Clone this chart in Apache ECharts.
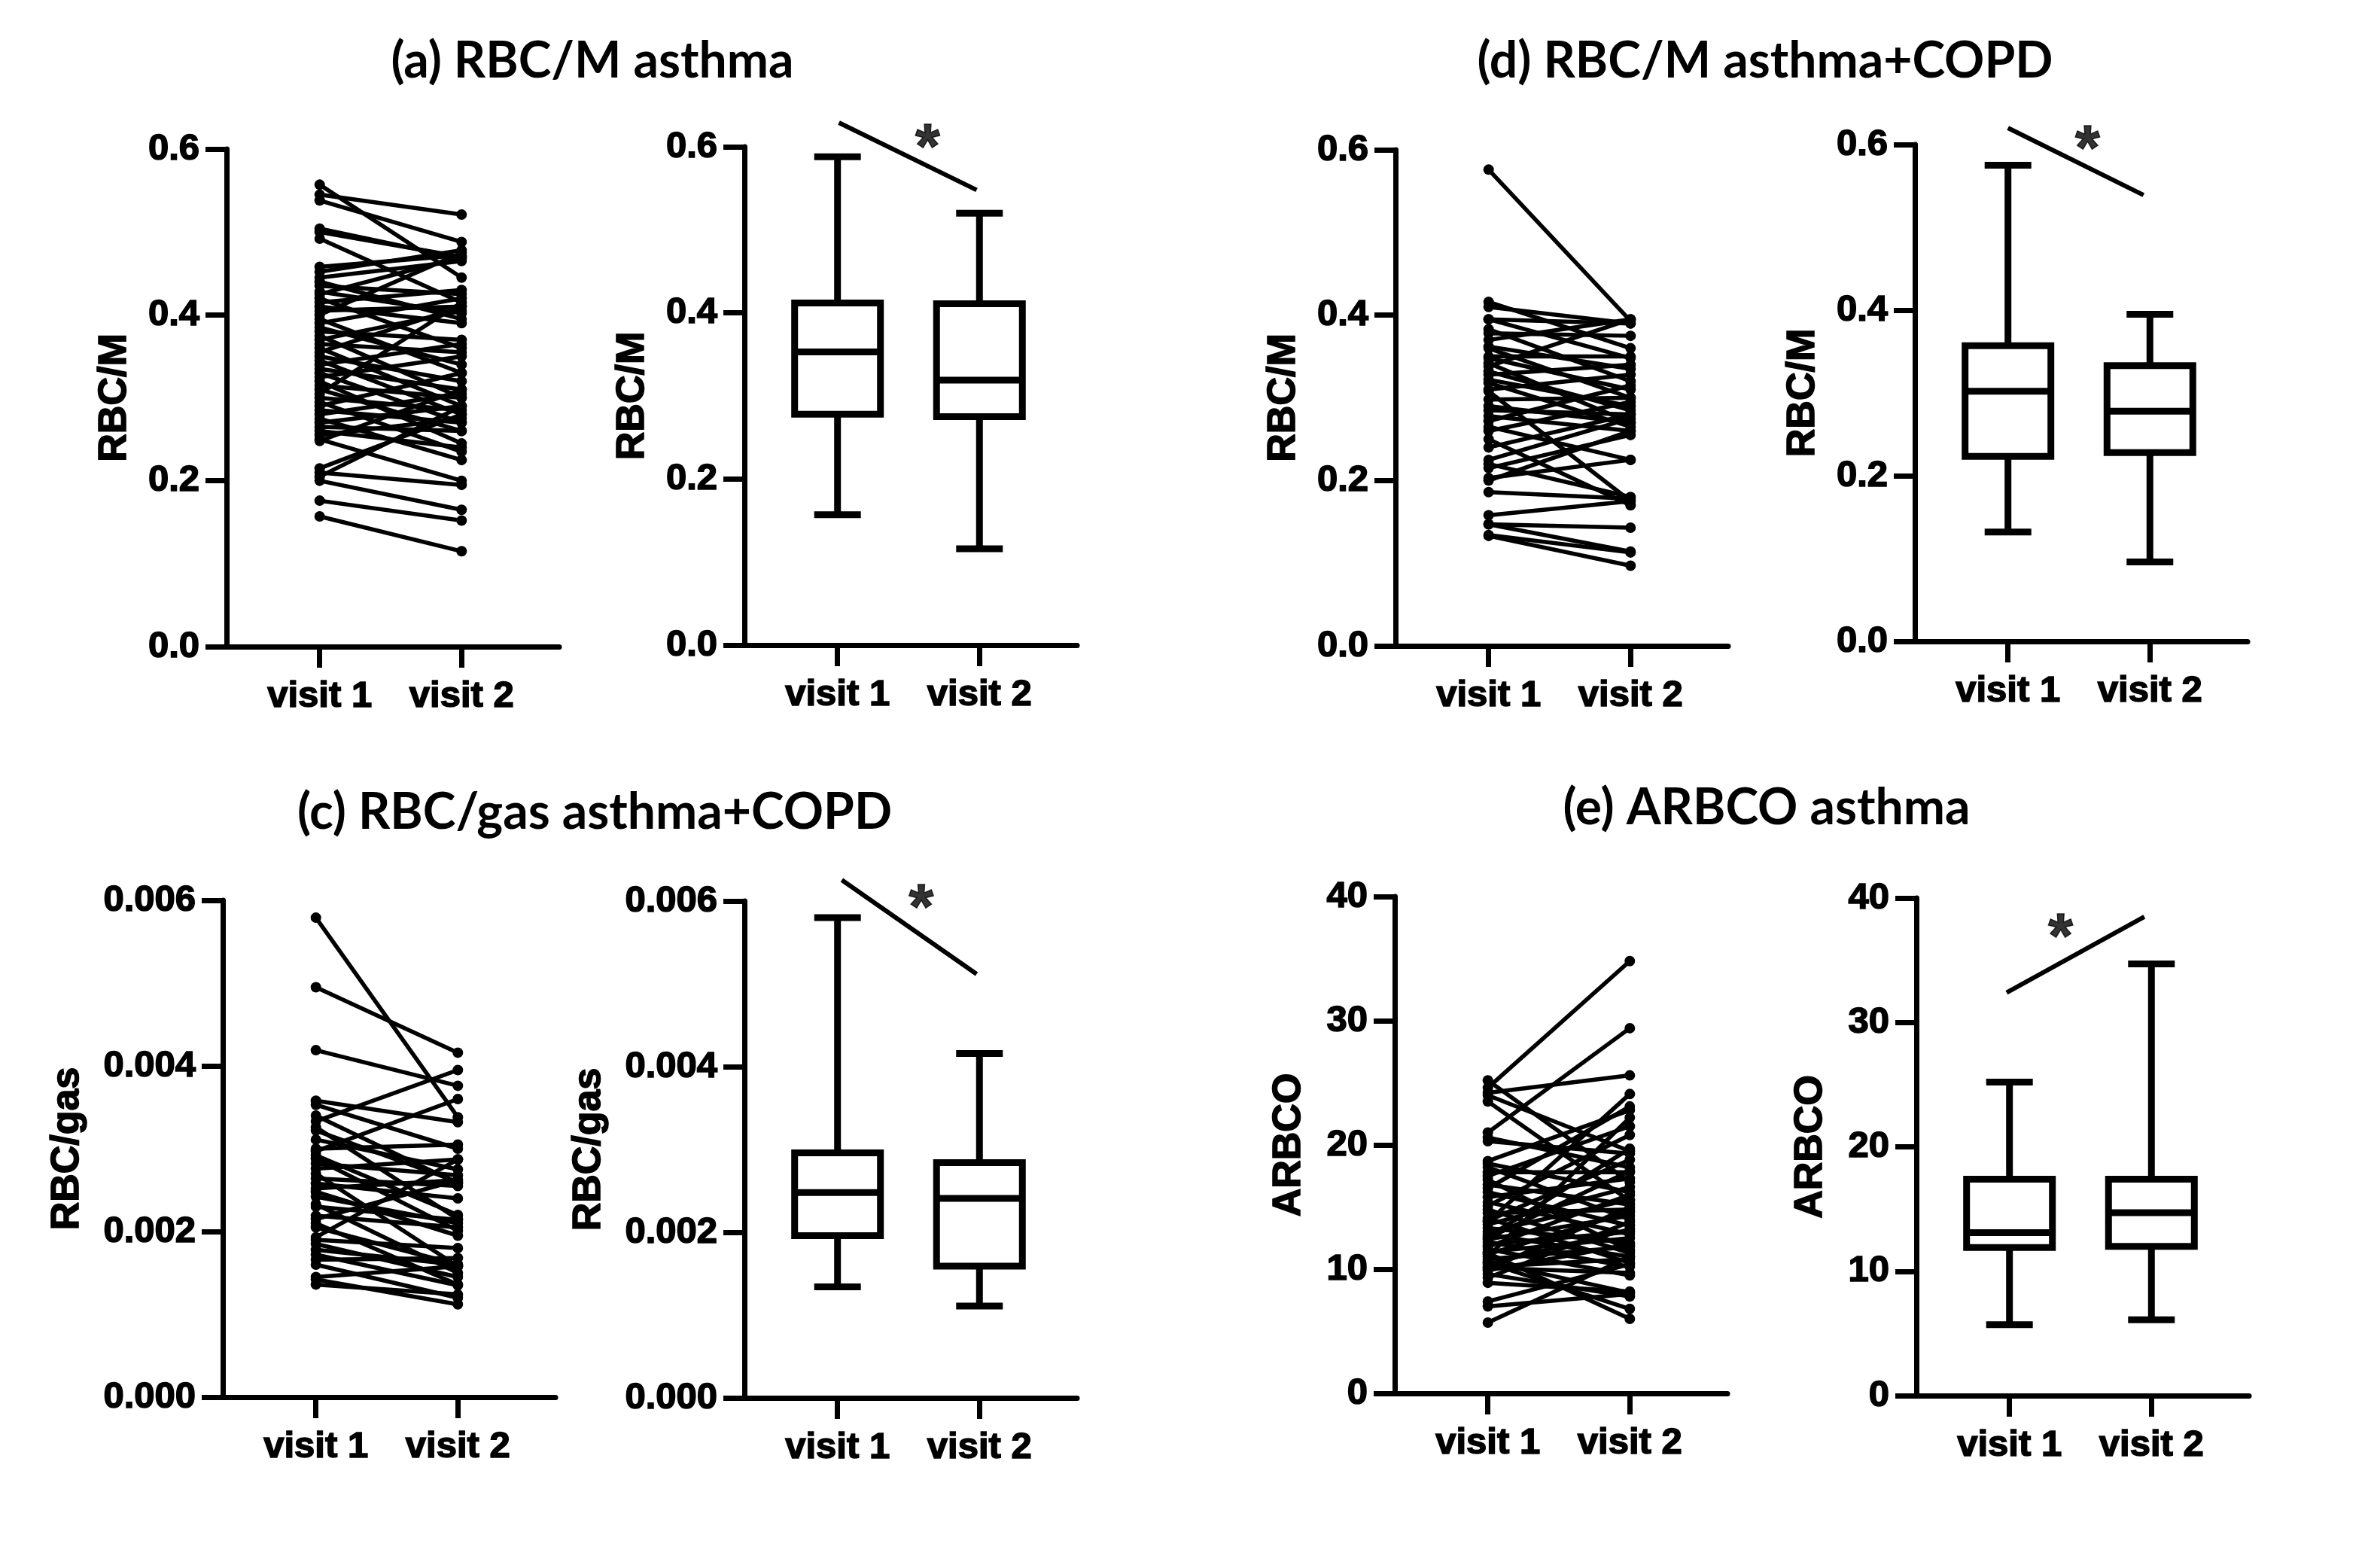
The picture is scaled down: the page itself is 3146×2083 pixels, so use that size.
<!DOCTYPE html>
<html>
<head>
<meta charset="utf-8">
<script src="https://cdn.jsdelivr.net/npm/echarts@6/dist/echarts.min.js"></script>
<style>
  html, body { margin: 0; padding: 0; background: #fff; }
  #chart { width: 3146px; height: 2083px; }
</style>
</head>
<body>
<div id="chart"></div>
<script>
// visit 1 / visit 2 paired values and box summaries
const visits = ['visit 1', 'visit 2'];

// (a) RBC/M asthma: [visit 1, visit 2] per subject
const aPairs = [
  [0.557, 0.445], [0.545, 0.521], [0.538, 0.488], [0.504, 0.468], [0.500, 0.470],
  [0.492, 0.415], [0.458, 0.472], [0.452, 0.478], [0.445, 0.465], [0.440, 0.395],
  [0.435, 0.425], [0.428, 0.402], [0.425, 0.470], [0.420, 0.360], [0.415, 0.430],
  [0.410, 0.390], [0.405, 0.410], [0.400, 0.475], [0.395, 0.330], [0.390, 0.420],
  [0.385, 0.340], [0.380, 0.370], [0.375, 0.300], [0.370, 0.405], [0.365, 0.355],
  [0.360, 0.290], [0.355, 0.410], [0.350, 0.320], [0.345, 0.280], [0.340, 0.365],
  [0.335, 0.310], [0.330, 0.270], [0.325, 0.350], [0.320, 0.245], [0.315, 0.300],
  [0.310, 0.260], [0.305, 0.415], [0.300, 0.285], [0.295, 0.235], [0.290, 0.330],
  [0.285, 0.270], [0.280, 0.305], [0.275, 0.225], [0.270, 0.290], [0.265, 0.260],
  [0.260, 0.240], [0.255, 0.275], [0.250, 0.200], [0.248, 0.310], [0.215, 0.280],
  [0.210, 0.195], [0.205, 0.290], [0.200, 0.165], [0.176, 0.152], [0.157, 0.115]
];
// [min, Q1, median, Q3, max]
const aBox = [[0.157, 0.278, 0.353, 0.412, 0.588], [0.116, 0.275, 0.319, 0.411, 0.520]];
const aSig = [[0.01, 0.629], [0.98, 0.548]];
const aStar = [0.635, 0.612];

// (d) RBC/M asthma+COPD
const dPairs = [
  [0.576, 0.393], [0.416, 0.360], [0.410, 0.390], [0.395, 0.390], [0.395, 0.348],
  [0.383, 0.320], [0.378, 0.375], [0.370, 0.395], [0.362, 0.335], [0.360, 0.300],
  [0.350, 0.350], [0.348, 0.310], [0.342, 0.270], [0.338, 0.395], [0.332, 0.285],
  [0.328, 0.340], [0.322, 0.290], [0.318, 0.265], [0.310, 0.328], [0.308, 0.175],
  [0.298, 0.300], [0.290, 0.270], [0.285, 0.280], [0.278, 0.260], [0.272, 0.315],
  [0.265, 0.225], [0.260, 0.295], [0.250, 0.170], [0.240, 0.280], [0.225, 0.275],
  [0.220, 0.180], [0.215, 0.255], [0.203, 0.225], [0.200, 0.260], [0.186, 0.178],
  [0.158, 0.175], [0.147, 0.143], [0.147, 0.114], [0.134, 0.113], [0.133, 0.097]
];
const dBox = [[0.132, 0.2235, 0.302, 0.357, 0.575], [0.096, 0.228, 0.278, 0.333, 0.395]];
const dSig = [[0.0, 0.62], [0.955, 0.539]];
const dStar = [0.56, 0.607];

// (c) RBC/gas asthma+COPD
const cPairs = [
  [0.00579, 0.00338], [0.00495, 0.00416], [0.00419, 0.00376], [0.00358, 0.00332],
  [0.00353, 0.00300], [0.00340, 0.00258], [0.00333, 0.00395], [0.00326, 0.00215],
  [0.00322, 0.00260], [0.00311, 0.00275], [0.00300, 0.00305], [0.00297, 0.00360],
  [0.00292, 0.00220], [0.00288, 0.00201], [0.00282, 0.00268], [0.00276, 0.00287],
  [0.00270, 0.00158], [0.00264, 0.00255], [0.00258, 0.00240], [0.00252, 0.00262],
  [0.00248, 0.00195], [0.00242, 0.00210], [0.00233, 0.00150], [0.00230, 0.00214],
  [0.00219, 0.00205], [0.00215, 0.00262], [0.00210, 0.00136], [0.00205, 0.00160],
  [0.00193, 0.00287], [0.00190, 0.00180], [0.00185, 0.00145], [0.00178, 0.00160],
  [0.00172, 0.00135], [0.00166, 0.00168], [0.00160, 0.00120], [0.00145, 0.00158],
  [0.00142, 0.00112], [0.00136, 0.00124]
];
const cBox = [[0.00134, 0.00196, 0.00248, 0.00296, 0.0058], [0.00111, 0.00159, 0.00241, 0.00284, 0.00416]];
const cSig = [[0.03, 0.006255], [0.98, 0.005118]];
const cStar = [0.59, 0.006045];

// (e) ARBCO asthma
const ePairs = [
  [24.6, 34.8], [24.2, 25.6], [24.0, 19.5], [25.2, 17.0], [23.5, 15.5], [21.0, 29.4],
  [20.6, 18.2], [20.3, 19.3], [18.7, 22.8], [18.5, 16.2], [18.2, 14.0], [17.8, 17.8],
  [17.5, 21.5], [17.2, 11.5], [16.8, 15.2], [16.5, 23.1], [16.2, 13.5], [15.8, 17.3],
  [15.4, 12.8], [15.1, 20.8], [14.5, 14.8], [14.1, 10.5], [13.8, 24.1], [13.6, 16.6],
  [13.3, 12.1], [13.0, 15.6], [12.8, 11.0], [12.6, 19.7], [12.4, 14.3], [12.2, 10.2],
  [12.0, 13.0], [11.8, 16.0], [11.6, 9.5], [11.4, 12.5], [11.2, 14.6], [11.0, 22.2],
  [10.8, 11.8], [10.6, 8.1], [10.4, 13.2], [10.2, 10.8], [10.0, 15.0], [9.9, 12.0],
  [9.6, 7.8], [9.3, 13.8], [8.9, 8.2], [7.4, 10.4], [7.0, 8.0], [5.7, 11.0],
  [10.5, 6.8], [11.3, 6.0], [12.5, 17.9], [14.8, 11.3], [13.9, 18.8], [10.1, 9.7]
];
const eBox = [[5.7, 11.9, 13.1, 17.4, 25.2], [6.1, 12.0, 14.7, 17.4, 34.7]];
const eSig = [[-0.02, 32.4], [0.95, 38.5]];
const eStar = [0.36, 37.7];

const titles = ['(a) RBC/M asthma', '(d) RBC/M asthma+COPD', '(c) RBC/gas asthma+COPD', '(e) ARBCO asthma'];

// ---- layout ----
const FONT = 'Liberation Sans';
const W = 442;
const panels = [
  { left: 301,  top: 198,  height: 661, max: 0.6,   step: 0.2,   digits: 1, name: 'RBC/M',   gap: 122, pairs: aPairs },
  { left: 989,  top: 195,  height: 662, max: 0.6,   step: 0.2,   digits: 1, name: 'RBC/M',   gap: 122, box: aBox, sig: aSig, star: aStar },
  { left: 1854, top: 199,  height: 659, max: 0.6,   step: 0.2,   digits: 1, name: 'RBC/M',   gap: 122, pairs: dPairs },
  { left: 2544, top: 192,  height: 660, max: 0.6,   step: 0.2,   digits: 1, name: 'RBC/M',   gap: 122, box: dBox, sig: dSig, star: dStar },
  { left: 296,  top: 1196, height: 660, max: 0.006, step: 0.002, digits: 3, name: 'RBC/gas', gap: 180, pairs: cPairs },
  { left: 989,  top: 1197, height: 660, max: 0.006, step: 0.002, digits: 3, name: 'RBC/gas', gap: 180, box: cBox, sig: cSig, star: cStar },
  { left: 1853, top: 1191, height: 660, max: 40,    step: 10,    digits: 0, name: 'ARBCO',   gap: 114, pairs: ePairs },
  { left: 2546, top: 1193, height: 661, max: 40,    step: 10,    digits: 0, name: 'ARBCO',   gap: 114, box: eBox, sig: eSig, star: eStar }
];
const titlePos = [[787, 82], [2345, 82], [790, 1080], [2347, 1074]];

const AX = { color: '#000', width: 7 };
// the reference glyphs are heavier than Liberation Sans Bold, so a thin stroke thickens them
const labelStyle = {
  color: '#000', fontSize: 49, fontWeight: 'bold', fontFamily: FONT,
  textBorderColor: '#000', textBorderWidth: 1.6
};

function pairItem(params, api) {
  const a = api.coord([0, api.value(0)]);
  const b = api.coord([1, api.value(1)]);
  return {
    type: 'group',
    children: [
      { type: 'line', shape: { x1: a[0], y1: a[1], x2: b[0], y2: b[1] }, style: { stroke: '#000', lineWidth: 5.5 } },
      { type: 'circle', shape: { cx: a[0], cy: a[1], r: 7 }, style: { fill: '#000' } },
      { type: 'circle', shape: { cx: b[0], cy: b[1], r: 7 }, style: { fill: '#000' } }
    ]
  };
}

function boxItem(params, api) {
  const x = api.value(0);
  const p = [1, 2, 3, 4, 5].map((k) => api.coord([x, api.value(k)]));
  const cx = p[0][0];
  const hw = 57, cw = 31;
  const st = { stroke: '#000', lineWidth: 9, fill: null };
  return {
    type: 'group',
    children: [
      { type: 'line', shape: { x1: cx, y1: p[3][1], x2: cx, y2: p[4][1] }, style: st },
      { type: 'line', shape: { x1: cx, y1: p[0][1], x2: cx, y2: p[1][1] }, style: st },
      { type: 'line', shape: { x1: cx - cw, y1: p[4][1], x2: cx + cw, y2: p[4][1] }, style: st },
      { type: 'line', shape: { x1: cx - cw, y1: p[0][1], x2: cx + cw, y2: p[0][1] }, style: st },
      { type: 'rect', shape: { x: cx - hw, y: p[3][1], width: hw * 2, height: p[1][1] - p[3][1] },
        style: { stroke: '#000', lineWidth: 9, fill: '#fff' } },
      { type: 'line', shape: { x1: cx - hw, y1: p[2][1], x2: cx + hw, y2: p[2][1] }, style: st }
    ]
  };
}

const grid = [], xAxis = [], yAxis = [], series = [];
panels.forEach((pn, i) => {
  grid.push({ left: pn.left, top: pn.top, width: W, height: pn.height });
  xAxis.push({
    gridIndex: i, type: 'value', min: -0.656, max: 1.688,
    axisLine: { show: true, onZero: false, lineStyle: AX },
    axisTick: { show: true, customValues: [0, 1], length: 28, lineStyle: AX },
    axisLabel: { customValues: [0, 1], formatter: (v) => visits[Math.round(v)], margin: 42, ...labelStyle },
    splitLine: { show: false }
  });
  yAxis.push({
    gridIndex: i, type: 'value', min: 0, max: pn.max, interval: pn.step,
    axisLine: { show: true, onZero: false, lineStyle: AX },
    axisTick: { show: true, length: 28, lineStyle: AX },
    axisLabel: { formatter: (v) => v.toFixed(pn.digits), margin: 36, ...labelStyle },
    splitLine: { show: false },
    name: pn.name, nameLocation: 'middle', nameGap: pn.gap,
    nameTextStyle: { color: '#000', fontSize: 52, fontWeight: 'bold', fontFamily: FONT,
      textBorderColor: '#000', textBorderWidth: 1.6 }
  });
  if (pn.pairs) {
    series.push({ type: 'custom', xAxisIndex: i, yAxisIndex: i, data: pn.pairs, renderItem: pairItem, silent: true });
  } else {
    series.push({
      type: 'custom', xAxisIndex: i, yAxisIndex: i, silent: true,
      data: pn.box.map((b, k) => [k, ...b]), renderItem: boxItem
    });
    series.push({
      type: 'line', xAxisIndex: i, yAxisIndex: i, data: pn.sig, symbol: 'none', clip: false, silent: true,
      lineStyle: { color: '#000', width: 6 }
    });
    series.push({
      type: 'scatter', xAxisIndex: i, yAxisIndex: i, data: [pn.star], symbolSize: 2, clip: false, silent: true,
      itemStyle: { color: 'rgba(0,0,0,0)' },
      label: { show: true, formatter: '*', position: 'inside', offset: [0, 18], color: '#000',
        fontSize: 84, fontWeight: 'bold', fontFamily: FONT, textBorderColor: '#000', textBorderWidth: 1.5 }
    });
  }
});

const chart = echarts.init(document.getElementById('chart'), null, { renderer: 'canvas' });
chart.setOption({
  backgroundColor: '#fff',
  animation: false,
  grid, xAxis, yAxis, series,
  graphic: titles.map((t, i) => ({
    type: 'text', x: titlePos[i][0], y: titlePos[i][1],
    style: { text: t, textAlign: 'center', textVerticalAlign: 'middle', fill: '#000',
      font: 'bold 66px Lato' }
  }))
});
</script>
</body>
</html>
